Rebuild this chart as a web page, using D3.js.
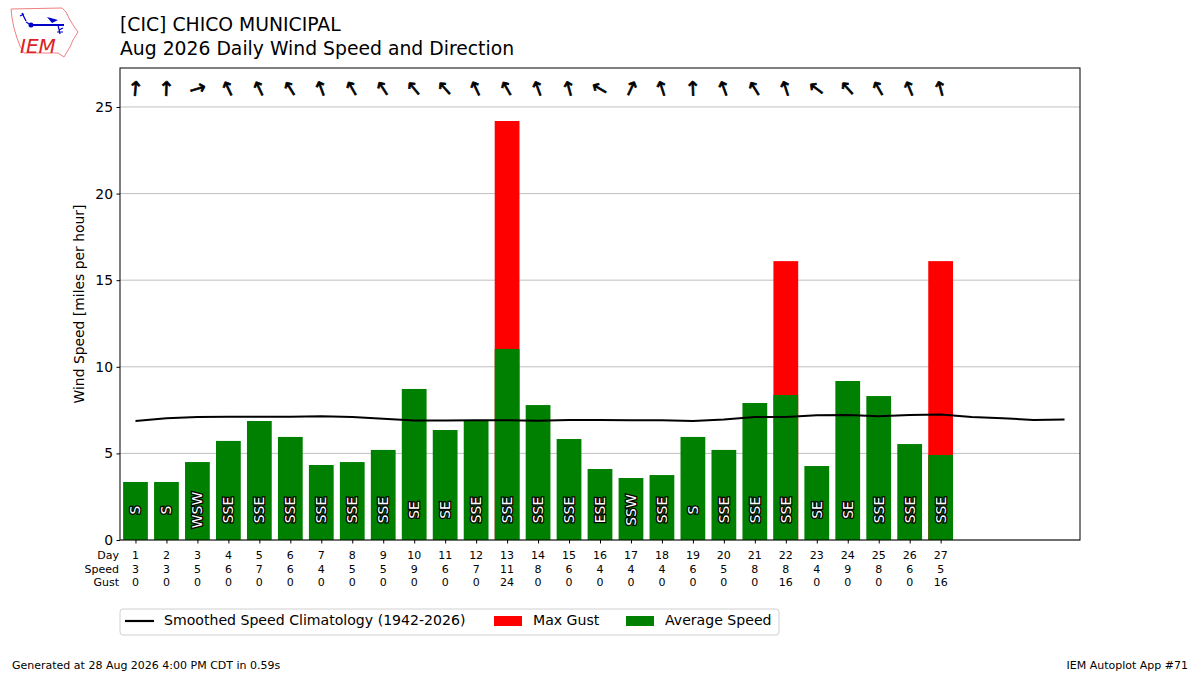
<html>
<head>
    <meta charset="UTF-8">
    <script src="https://d3js.org/d3.v7.min.js"></script>
    <title>Daily Wind Speed</title>
    <style>
        body { margin: 0; background: white; }
        text { font-family: "DejaVu Sans", sans-serif; }
    </style>
</head>
<body>
    <svg id="chart" width="1200" height="675"></svg>
    <script>
        // data
        const days = d3.range(1, 28);
        const avgSpeed = [3.35, 3.35, 4.5, 5.72, 6.87, 5.95, 4.33, 4.5, 5.2, 8.72,
            6.35, 6.87, 11.03, 7.79, 5.83, 4.1, 3.58, 3.75, 5.95, 5.2,
            7.91, 8.37, 4.27, 9.18, 8.31, 5.54, 4.91];
        const maxGust = [0, 0, 0, 0, 0, 0, 0, 0, 0, 0, 0, 0, 24.19, 0, 0, 0, 0, 0, 0, 0,
            0, 16.1, 0, 0, 0, 0, 16.1];
        const dirDeg = [185, 182, 253, 155, 155, 148, 160, 150, 147, 140,
            138, 155, 150, 160, 165, 120, 205, 162, 178, 160,
            148, 162, 127, 138, 150, 158, 165];
        const dirText = ['S', 'S', 'WSW', 'SSE', 'SSE', 'SSE', 'SSE', 'SSE', 'SSE', 'SE',
            'SE', 'SSE', 'SSE', 'SSE', 'SSE', 'ESE', 'SSW', 'SSE', 'S', 'SSE',
            'SSE', 'SSE', 'SE', 'SE', 'SSE', 'SSE', 'SSE'];
        const climoDays = d3.range(1, 32);
        const climo = [6.87, 7.03, 7.1, 7.12, 7.12, 7.12, 7.15, 7.1, 7.0, 6.9,
            6.9, 6.92, 6.92, 6.88, 6.93, 6.93, 6.92, 6.92, 6.87, 6.95,
            7.1, 7.1, 7.2, 7.22, 7.15, 7.22, 7.25, 7.1, 7.03, 6.93, 6.95];
        const yTicks = [0, 5, 10, 15, 20, 25];

        const svg = d3.select('#chart');
        const pLeft = 120, pRight = 1080, pTop = 68, pBottom = 540;

        const x = d3.scaleLinear().domain([0.5, 31.5]).range([pLeft, pRight]);
        const y = d3.scaleLinear().domain([0, 27.25]).range([pBottom, pTop]);
        const bw = (x(1.8) - x(1));

        // grid
        svg.append('g').selectAll('line').data(yTicks).join('line')
            .attr('x1', pLeft).attr('x2', pRight)
            .attr('y1', d => y(d)).attr('y2', d => y(d))
            .attr('stroke', '#b0b0b0').attr('stroke-width', 0.8);

        // gust bars (red) behind average bars
        svg.append('g').selectAll('rect').data(days.filter((d, i) => maxGust[i] > 0)).join('rect')
            .attr('x', d => x(d) - bw / 2)
            .attr('width', bw)
            .attr('y', d => y(maxGust[d - 1]))
            .attr('height', d => pBottom - y(maxGust[d - 1]))
            .attr('fill', '#ff0000');

        svg.append('g').selectAll('rect').data(days).join('rect')
            .attr('x', d => x(d) - bw / 2)
            .attr('width', bw)
            .attr('y', (d, i) => y(avgSpeed[i]))
            .attr('height', (d, i) => pBottom - y(avgSpeed[i]))
            .attr('fill', '#008000');

        // direction labels inside bars
        svg.append('g').selectAll('text').data(days).join('text')
            .attr('transform', d => 'translate(' + (x(d) + 1) + ',' + y(1.73) + ') rotate(-90)')
            .attr('text-anchor', 'middle')
            .attr('dominant-baseline', 'middle')
            .attr('font-size', 13.9)
            .attr('fill', 'white')
            .attr('stroke', 'black')
            .attr('stroke-width', 2.6)
            .attr('paint-order', 'stroke')
            .text((d, i) => dirText[i]);

        // climatology line
        svg.append('path')
            .datum(climoDays)
            .attr('d', d3.line().x(d => x(d)).y((d, i) => y(climo[i])))
            .attr('fill', 'none')
            .attr('stroke', 'black')
            .attr('stroke-width', 2);

        // arrows showing direction wind blows to
        svg.append('g').selectAll('text').data(days).join('text')
            .attr('transform', (d, i) => 'translate(' + x(d) + ',' + y(26.05) + ') rotate(' + (dirDeg[i] + 180) + ')')
            .attr('text-anchor', 'middle')
            .attr('dominant-baseline', 'central')
            .attr('font-size', 20)
            .attr('fill', 'black')
            .attr('stroke', 'black')
            .attr('stroke-width', 0.7)
            .text('\u2191');

        // frame
        svg.append('rect')
            .attr('x', pLeft).attr('y', pTop)
            .attr('width', pRight - pLeft).attr('height', pBottom - pTop)
            .attr('fill', 'none').attr('stroke', 'black').attr('stroke-width', 1);

        // y axis
        const yAxis = svg.append('g')
            .attr('transform', 'translate(' + pLeft + ',0)')
            .call(d3.axisLeft(y).tickValues(yTicks).tickSize(3.5).tickPadding(3.5));
        yAxis.select('.domain').remove();
        yAxis.selectAll('text').attr('font-size', 13.9).attr('font-family', 'DejaVu Sans').attr('fill', 'black');

        // x ticks and table below
        const xAxis = svg.append('g')
            .attr('transform', 'translate(0,' + pBottom + ')')
            .call(d3.axisBottom(x).tickValues(days).tickSize(3.5).tickFormat(''));
        xAxis.select('.domain').remove();

        const rows = [
            { name: 'Day', vals: days.map(d => d) },
            { name: 'Speed', vals: avgSpeed.map(v => Math.round(v)) },
            { name: 'Gust', vals: maxGust.map(v => Math.round(v)) }
        ];
        rows.forEach(function (r, k) {
            const yy = 556 + k * 13.5;
            svg.append('text').attr('x', pLeft - 1).attr('y', yy)
                .attr('text-anchor', 'end').attr('dominant-baseline', 'middle')
                .attr('font-size', 11).text(r.name);
            svg.append('g').selectAll('text').data(days).join('text')
                .attr('x', d => x(d)).attr('y', yy)
                .attr('text-anchor', 'middle').attr('dominant-baseline', 'middle')
                .attr('font-size', 11)
                .text((d, i) => r.vals[i]);
        });

        // y label
        svg.append('text')
            .attr('transform', 'translate(84,' + ((pTop + pBottom) / 2) + ') rotate(-90)')
            .attr('text-anchor', 'middle')
            .attr('font-size', 13.9)
            .text('Wind Speed [miles per hour]');

        // titles
        svg.append('text').attr('x', 120).attr('y', 31).attr('font-size', 18.8).text('[CIC] CHICO MUNICIPAL');
        svg.append('text').attr('x', 120).attr('y', 55).attr('font-size', 18.8).text('Aug 2026 Daily Wind Speed and Direction');

        // legend
        const lg = svg.append('g');
        lg.append('rect').attr('x', 120).attr('y', 609).attr('width', 659).attr('height', 26)
            .attr('rx', 3).attr('fill', 'white').attr('stroke', '#d0d0d0');
        lg.append('line').attr('x1', 125).attr('x2', 154).attr('y1', 621).attr('y2', 621)
            .attr('stroke', 'black').attr('stroke-width', 2.2);
        lg.append('text').attr('x', 164).attr('y', 621).attr('dominant-baseline', 'middle')
            .attr('font-size', 14.1).text('Smoothed Speed Climatology (1942-2026)');
        lg.append('rect').attr('x', 494).attr('y', 616).attr('width', 28).attr('height', 10).attr('fill', '#ff0000');
        lg.append('text').attr('x', 533).attr('y', 621).attr('dominant-baseline', 'middle')
            .attr('font-size', 14.1).text('Max Gust');
        lg.append('rect').attr('x', 626).attr('y', 616).attr('width', 28).attr('height', 10).attr('fill', '#008000');
        lg.append('text').attr('x', 665).attr('y', 621).attr('dominant-baseline', 'middle')
            .attr('font-size', 14.1).text('Average Speed');

        // footer
        svg.append('text').attr('x', 12).attr('y', 669).attr('font-size', 11)
            .text('Generated at 28 Aug 2026 4:00 PM CDT in 0.59s');
        svg.append('text').attr('x', 1188).attr('y', 669).attr('font-size', 11)
            .attr('text-anchor', 'end').text('IEM Autoplot App #71');

        // logo (rough)
        const logo = svg.append('g');
        logo.append('path')
            .attr('d', 'M11,9 L62,8 L66,12 L70,20 L75,28 L78,32 L73,40 L70,47 L67,52 L64,57 L58,53 L24,53 L20,46 L17,38 L14,28 L12,18 Z')
            .attr('fill', 'white').attr('stroke', '#f08080').attr('stroke-width', 1);
        logo.append('line').attr('x1', 31).attr('x2', 64).attr('y1', 25).attr('y2', 25).attr('stroke', '#0000cc').attr('stroke-width', 2);
        logo.append('circle').attr('cx', 31).attr('cy', 25).attr('r', 2.5).attr('fill', '#0000cc');
        logo.append('path').attr('d', 'M26,22 L31,25 M22,13 L26,21 M20,16 L24,14').attr('stroke', '#0000cc').attr('stroke-width', 1.3).attr('fill', 'none');
        logo.append('path').attr('d', 'M47,17 L58,20 L52,23 Z').attr('fill', '#0000cc');
        logo.append('path').attr('d', 'M58,25 L60,34 M57,32 L63,32 M59,30 L63,28').attr('stroke', '#0000cc').attr('stroke-width', 1.2).attr('fill', 'none');
        logo.append('text').attr('x', 20).attr('y', 53).attr('font-family', 'Liberation Serif, serif')
            .attr('font-style', 'italic').attr('font-size', 20).attr('fill', '#dd2222').text('IEM');
    </script>
</body>
</html>
